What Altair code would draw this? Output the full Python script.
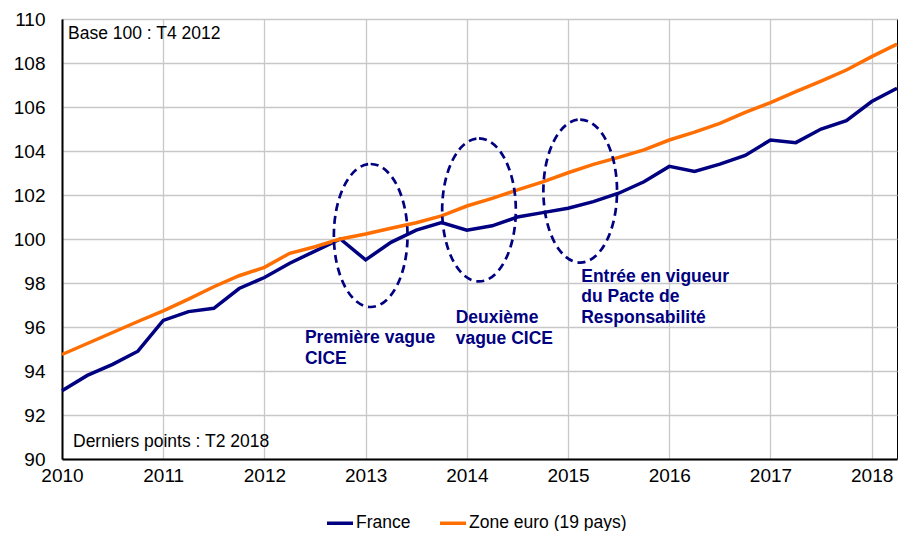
import altair as alt
import pandas as pd

# ---- data (index base 100 : T4 2012), quarterly T1 2010 .. T2 2018
quarters = [f"T{q} {y}" for y in range(2010, 2019) for q in range(1, 5)][:34]
france = [93.1, 93.8, 94.3, 94.9,
          96.3, 96.7, 96.85, 97.75,
          98.25, 98.9, 99.45, 100.0,
          99.05, 99.85, 100.4, 100.75,
          100.4, 100.6, 101.0, 101.2,
          101.4, 101.7, 102.08, 102.6,
          103.3, 103.07, 103.4, 103.8,
          104.5, 104.38, 105.0, 105.38,
          106.25, 106.85]
zone_euro = [94.75, 95.25, 95.75, 96.25,
             96.73, 97.27, 97.83, 98.33,
             98.71, 99.35, 99.65, 100.0,
             100.23, 100.49, 100.74, 101.05,
             101.5, 101.85, 102.23, 102.6,
             103.01, 103.39, 103.71, 104.05,
             104.5, 104.86, 105.26, 105.76,
             106.2, 106.7, 107.18, 107.68,
             108.29, 108.86]
series_names = ["France", "Zone euro (19 pays)"]
series_colors = ["#000080", "#FF6E00"]

# annotations (ellipses around CICE / Pacte events)
ellipse_t = [2013.05, 2014.12, 2015.12]
ellipse_v = [100.16, 101.32, 102.18]
note_t = [2012.40, 2013.89, 2015.13]
note_v = [95.27, 96.18, 98.05]
note_text = ["Première vague\nCICE", "Deuxième\nvague CICE",
             "Entrée en vigueur\ndu Pacte de\nResponsabilité"]

x_ticks = list(range(2010, 2019))
y_ticks = list(range(90, 111, 2))

FONT = "Liberation Sans"
NAVY = "#000080"

def qpos(label):
    q, y = label.split()
    return int(y) + (int(q[1]) - 1) / 4

rows = []
for name, vals in zip(series_names, [france, zone_euro]):
    for lab, v in zip(quarters, vals):
        rows.append({"t": qpos(lab), "v": v, "serie": name})
df = pd.DataFrame(rows)

xs = alt.Scale(domain=[2010, 2018.25], nice=False, zero=False)
ys = alt.Scale(domain=[90, 110], nice=False, zero=False)

lines = alt.Chart(df).mark_line(strokeWidth=3.5, strokeJoin="miter").encode(
    x=alt.X("t:Q", scale=xs, title=None,
            axis=alt.Axis(values=x_ticks, format="d", labelFlush=False,
                          labelOverlap=False, ticks=False, labelPadding=7,
                          labelFont=FONT, labelFontSize=19, labelColor="black",
                          domainColor="black", domainWidth=2,
                          gridColor="#C8C8C8", gridWidth=1.3)),
    y=alt.Y("v:Q", scale=ys, title=None,
            axis=alt.Axis(values=y_ticks, ticks=False, labelPadding=17,
                          labelFont=FONT, labelFontSize=19, labelColor="black",
                          domainColor="black", domainWidth=2,
                          gridColor="#C8C8C8", gridWidth=1.3)),
    color=alt.Color("serie:N",
                    scale=alt.Scale(domain=series_names, range=series_colors),
                    sort=series_names,
                    legend=alt.Legend(title=None, orient="none", direction="horizontal",
                                      legendX=263, legendY=489,
                                      symbolType="stroke", symbolSize=676,
                                      symbolStrokeWidth=3.5, labelFontSize=17.5,
                                      labelFont=FONT, labelColor="black",
                                      labelOffset=1, columnPadding=22, padding=0)),
)

ell = pd.DataFrame({"t": ellipse_t, "v": ellipse_v})
ellipses = alt.Chart(ell).mark_point(
    shape="M0,-1A0.515,1 0 1,1 0,1A0.515,1 0 1,1 0,-1Z",
    size=143 * 143, filled=False, color=NAVY, strokeWidth=2.7,
    strokeDash=[8, 5], opacity=1,
).encode(x=alt.X("t:Q", scale=xs), y=alt.Y("v:Q", scale=ys))

notes = pd.DataFrame({"t": note_t, "v": note_v, "label": note_text})
note_marks = alt.Chart(notes).mark_text(
    align="left", baseline="alphabetic", lineBreak="\n", lineHeight=20.5,
    font=FONT, fontSize=17.5, fontWeight="bold", color=NAVY,
).encode(x=alt.X("t:Q", scale=xs), y=alt.Y("v:Q", scale=ys), text="label:N")

corner = pd.DataFrame({"label": ["Base 100 : T4 2012", "Derniers points : T2 2018"],
                       "px": [6, 11], "py": [20, 428]})
corner_marks = alt.Chart(corner).mark_text(
    align="left", baseline="alphabetic", font=FONT, fontSize=17.5, color="black",
).encode(x=alt.X("px:Q", scale=None), y=alt.Y("py:Q", scale=None), text="label:N")

chart = alt.layer(lines, ellipses, note_marks, corner_marks).properties(
    width=835, height=440,
    autosize=alt.AutoSizeParams(type="none"),
    padding={"left": 54, "top": 11, "right": 2, "bottom": 72},
    background="white",
).configure_view(stroke="black", strokeWidth=1)

chart.save("out.html", embed_options={"renderer": "svg", "actions": False})
